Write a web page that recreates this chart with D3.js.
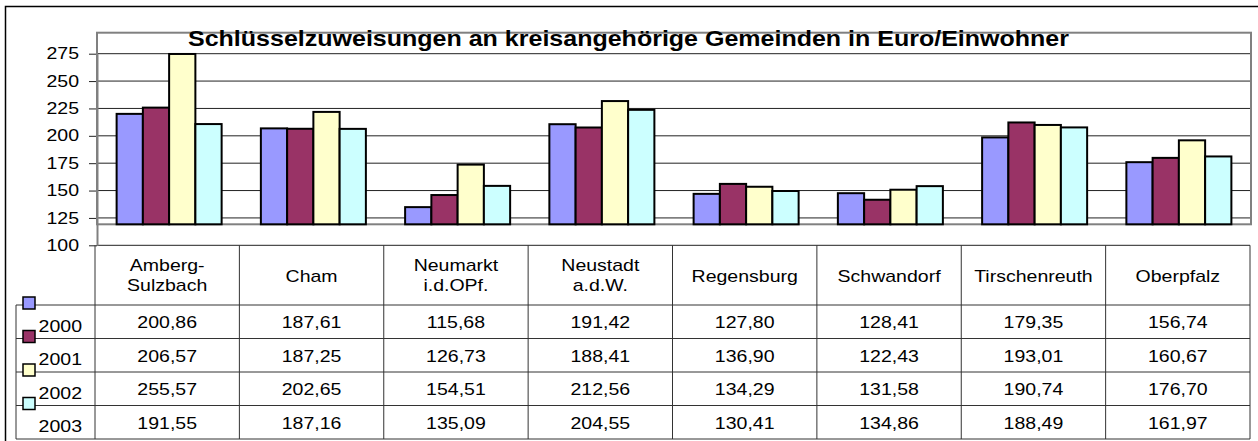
<!DOCTYPE html>
<html>
<head>
<meta charset="utf-8">
<script src="https://cdn.jsdelivr.net/npm/d3@7"></script>
<style>
body { margin: 0; background: #fff; }
text { font-family: "Liberation Sans", Arial, sans-serif; fill: #000; }
</style>
</head>
<body>
<svg id="chart" width="1258" height="441"></svg>
<script>
// data (table values, bars use the same numbers)
const categories = ['Amberg-\nSulzbach', 'Cham', 'Neumarkt\ni.d.OPf.', 'Neustadt\na.d.W.', 'Regensburg', 'Schwandorf', 'Tirschenreuth', 'Oberpfalz']
const years = ['2000', '2001', '2002', '2003']
const values2000 = [200.86, 187.61, 115.68, 191.42, 127.80, 128.41, 179.35, 156.74]
const values2001 = [206.57, 187.25, 126.73, 188.41, 136.90, 122.43, 193.01, 160.67]
const values2002 = [255.57, 202.65, 154.51, 212.56, 134.29, 131.58, 190.74, 176.70]
const values2003 = [191.55, 187.16, 135.09, 204.55, 130.41, 134.86, 188.49, 161.97]
const yTicks = [100, 125, 150, 175, 200, 225, 250, 275]
const title = 'Schlüsselzuweisungen an kreisangehörige Gemeinden in Euro/Einwohner'
const barColors = ['#9999ff', '#993366', '#ffffcc', '#ccffff']

const series = [values2000, values2001, values2002, values2003]

// layout
const plot = {left: 97, right: 1251, top: 32.7, bottom: 224.3}
const axisShift = 21          // excel drew the value axis lower than the bars
const stretch = 1.22          // the picture is stretched sideways
const table = {left: 95, right: 1250, legendLeft: 16, header: 305, rowH: 33.5}

const de = d3.formatLocale({decimal: ',', thousands: '.', grouping: [3], currency: ['', '€']})
const fmt = de.format('.2f')

const svg = d3.select('#chart')

/**
 * text that is stretched horizontally like the picture
 */
const wideText =
(g, x, y, str, anchor = 'middle', size = 16) =>
    g.append('text')
        .attr('transform', `translate(${x},${y}) scale(${stretch},1)`)
        .attr('text-anchor', anchor)
        .style('font-size', size + 'px')
        .text(str)

// outer frame, runs off the right and bottom edge
svg.append('rect')
    .attr('x', 5.5).attr('y', 6.5)
    .attr('width', 1300).attr('height', 500)
    .attr('fill', 'none')
    .attr('stroke', '#000')
    .attr('stroke-width', 1.5)

const yScale = d3.scaleLinear()
    .domain([100, 275])
    .range([plot.bottom, plot.top])

const x0 = d3.scaleBand()
    .domain(categories)
    .range([plot.left, plot.right])
    .paddingInner(0.272)
    .paddingOuter(0.136)

const x1 = d3.scaleBand()
    .domain(years)
    .range([0, x0.bandwidth()])

const xTable = d3.scaleBand()
    .domain(categories)
    .range([table.left, table.right])

// gridlines + axis, shifted down
const axisG = svg.append('g')
    .attr('transform', `translate(${plot.left},${axisShift})`)

axisG.selectAll('line.grid')
    .data(yTicks)
    .enter()
    .append('line')
        .attr('class', 'grid')
        .attr('x1', 0)
        .attr('x2', d => d == 100 ? table.right - plot.left : plot.right - plot.left)
        .attr('y1', d => yScale(d))
        .attr('y2', d => yScale(d))
        .attr('stroke', '#222')
        .attr('stroke-width', 1)

axisG.call(d3.axisLeft(yScale).tickValues(yTicks).tickSize(8).tickSizeOuter(0))
axisG.select('.domain').attr('stroke', '#808080').attr('stroke-width', 2)
axisG.selectAll('.tick line').attr('stroke', '#222')
axisG.selectAll('.tick text')
    .attr('x', null)
    .attr('transform', `translate(-18,0) scale(${stretch},1)`)
    .style('font-size', '16px')
    .style('font-family', '"Liberation Sans", Arial, sans-serif')
    .attr('fill', '#000')

// plot area border
svg.append('rect')
    .attr('x', plot.left).attr('y', plot.top)
    .attr('width', plot.right - plot.left)
    .attr('height', plot.bottom - plot.top)
    .attr('fill', 'none')
    .attr('stroke', '#808080')
    .attr('stroke-width', 2)

// bars
years.forEach((yr, i) => {
    svg.append('g')
        .selectAll('rect')
        .data(series[i])
        .enter()
        .append('rect')
            .attr('x', (d, j) => x0(categories[j]) + x1(yr))
            .attr('y', d => yScale(d))
            .attr('width', x1.bandwidth())
            .attr('height', d => yScale(100) - yScale(d))
            .attr('fill', barColors[i])
            .attr('stroke', '#000')
            .attr('stroke-width', 2)
})

// title
svg.append('text')
    .attr('x', 628.5)
    .attr('y', 46)
    .attr('text-anchor', 'middle')
    .attr('textLength', 881)
    .attr('lengthAdjust', 'spacingAndGlyphs')
    .style('font-size', '22px')
    .style('font-weight', 'bold')
    .text(title)

// data table
const tableTop = yScale(100) + axisShift
const tableBottom = table.header + years.length * table.rowH
const tbl = svg.append('g')
    .attr('stroke', '#333')
    .attr('stroke-width', 1)

// column lines
tbl.selectAll('line.col')
    .data(categories.map(c => xTable(c)).concat([table.right]))
    .enter()
    .append('line')
        .attr('x1', d => d).attr('x2', d => d)
        .attr('y1', tableTop).attr('y2', tableBottom)

tbl.append('line')
    .attr('x1', table.legendLeft).attr('x2', table.legendLeft)
    .attr('y1', table.header).attr('y2', tableBottom)

// row lines
tbl.selectAll('line.row')
    .data(d3.range(years.length + 1))
    .enter()
    .append('line')
        .attr('x1', table.legendLeft).attr('x2', table.right)
        .attr('y1', i => table.header + i * table.rowH)
        .attr('y2', i => table.header + i * table.rowH)

// header labels
categories.forEach(c => {
    let cx = xTable(c) + xTable.bandwidth() / 2
    let lines = c.split('\n')
    if (lines.length == 1) wideText(svg, cx, 281.5, lines[0])
    else {
        wideText(svg, cx, 270.5, lines[0])
        wideText(svg, cx, 291, lines[1])
    }
})

// rows
years.forEach((yr, i) => {
    let top = table.header + i * table.rowH
    series[i].forEach((v, j) => {
        wideText(svg, xTable(categories[j]) + xTable.bandwidth() / 2, top + 23, fmt(v))
    })
    wideText(svg, 82, top + 26.5, yr, 'end')
    svg.append('rect')
        .attr('x', 23).attr('y', top - 8)
        .attr('width', 12).attr('height', 12)
        .attr('fill', barColors[i])
        .attr('stroke', '#000')
        .attr('stroke-width', 1.5)
})
</script>
</body>
</html>
